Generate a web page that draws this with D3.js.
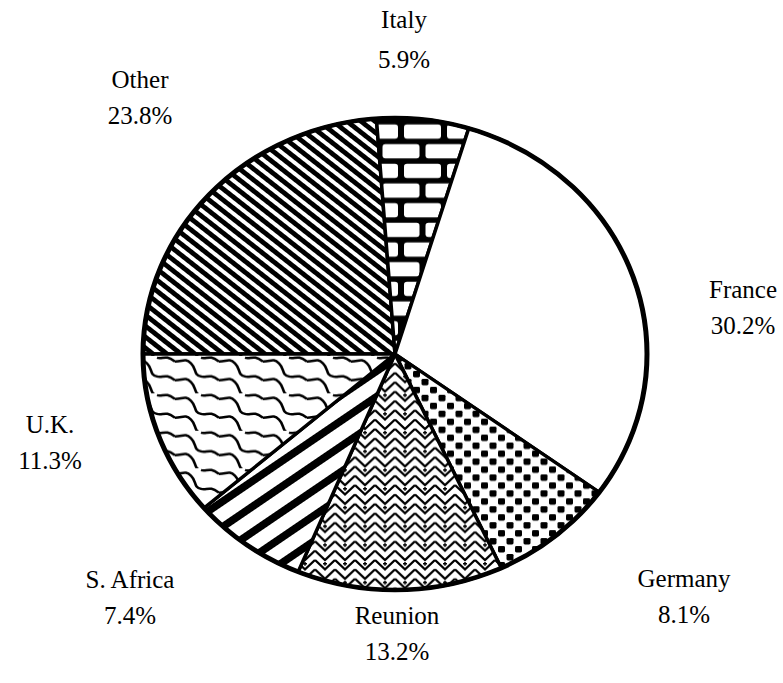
<!DOCTYPE html>
<html>
<head>
<meta charset="utf-8">
<script src="https://cdn.jsdelivr.net/npm/d3@7"></script>
<style>
  html, body { margin: 0; padding: 0; background: #fff; }
  svg { display: block; }
  text { font-family: "Liberation Serif", "DejaVu Serif", serif; fill: #000; }
</style>
</head>
<body>
<script>
// ---- data (clockwise from 9 o'clock) ----
const categories = ["Other", "Italy", "France", "Germany", "Reunion", "S. Africa", "U.K."];
const shares     = [23.8, 5.9, 30.2, 8.1, 13.2, 7.4, 11.3];
const shareLabels = ["23.8%", "5.9%", "30.2%", "8.1%", "13.2%", "7.4%", "11.3%"];
const fills      = ["pOther", "pItaly", "none", "pGermany", "pReunion", "pSAfrica", "pUK"];
// label anchor points (centre x, baseline y of first line)
const labelX = [140, 404, 743, 684, 397, 130, 50];
const labelY = [88, 28, 298, 587, 624, 588, 433];
const labelGap = [36, 40, 36, 36, 36, 36, 36];

const W = 783, H = 683;
const cx = 395, cy = 354, rx = 252, ry = 236;

const svg = d3.select("body").append("svg").attr("width", W).attr("height", H);
const defs = svg.append("defs");

// Other: diagonal stripes down-right
{
  const p = defs.append("pattern").attr("id", "pOther").attr("patternUnits", "userSpaceOnUse")
    .attr("width", 20).attr("height", 9).attr("patternTransform", "rotate(40)");
  p.append("rect").attr("width", 20).attr("height", 9).attr("fill", "#fff");
  p.append("rect").attr("y", 0).attr("width", 20).attr("height", 5).attr("fill", "#000");
}
// Italy: bricks
{
  const p = defs.append("pattern").attr("id", "pItaly").attr("patternUnits", "userSpaceOnUse")
    .attr("width", 43).attr("height", 42).attr("x", 6).attr("y", 4);
  p.append("rect").attr("width", 43).attr("height", 42).attr("fill", "#000");
  const b = [[3, 3], [-18.5, 24], [24.5, 24]];
  b.forEach(([x, y]) => p.append("rect").attr("x", x).attr("y", y).attr("width", 37).attr("height", 15)
    .attr("rx", 3).attr("fill", "#fff"));
}
// Germany: staggered square dots
{
  const p = defs.append("pattern").attr("id", "pGermany").attr("patternUnits", "userSpaceOnUse")
    .attr("width", 17).attr("height", 17);
  p.append("rect").attr("width", 17).attr("height", 17).attr("fill", "#fff");
  p.append("rect").attr("x", 1).attr("y", 1).attr("width", 7).attr("height", 7).attr("rx", 1.5).attr("fill", "#000");
  p.append("rect").attr("x", 9.5).attr("y", 9.5).attr("width", 7).attr("height", 7).attr("rx", 1.5).attr("fill", "#000");
}
// Reunion: herringbone / chevrons
{
  const p = defs.append("pattern").attr("id", "pReunion").attr("patternUnits", "userSpaceOnUse")
    .attr("width", 20).attr("height", 20);
  p.append("rect").attr("width", 20).attr("height", 20).attr("fill", "#fff");
  p.append("path").attr("d", "M0,0 L10,10 L20,0 M0,10 L10,20 L20,10 M0,20 L10,30 L20,20 M0,-10 L10,0 L20,-10")
    .attr("fill", "none").attr("stroke", "#000").attr("stroke-width", 2.4);
  p.append("path").attr("d", "M8,4 L12,4 M10,2 L10,6").attr("stroke", "#000").attr("stroke-width", 1.5);
}
// S. Africa: wide stripes up-right
{
  const p = defs.append("pattern").attr("id", "pSAfrica").attr("patternUnits", "userSpaceOnUse")
    .attr("width", 30).attr("height", 22).attr("patternTransform", "rotate(-36)");
  p.append("rect").attr("width", 30).attr("height", 22).attr("fill", "#fff");
  p.append("rect").attr("y", 0).attr("width", 30).attr("height", 8).attr("fill", "#000");
}
// U.K.: scale / wave pattern
{
  const p = defs.append("pattern").attr("id", "pUK").attr("patternUnits", "userSpaceOnUse")
    .attr("width", 44).attr("height", 40).attr("y", 2);
  p.append("rect").attr("width", 44).attr("height", 40).attr("fill", "#fff");
  p.append("path")
    .attr("d", "M0,6 C8,6 10,2 16,8 C22,14 18,20 26,22 C32,24 34,18 44,26 " +
               "M0,26 C8,26 10,22 16,28 C22,34 18,40 26,42 " +
               "M26,2 C32,4 34,-2 44,6")
    .attr("fill", "none").attr("stroke", "#000").attr("stroke-width", 2.6);
}

const pie = d3.pie().sort(null).value(d => d).startAngle(-Math.PI / 2).endAngle(3 * Math.PI / 2);
const arcs = pie(shares);
const arc = d3.arc().innerRadius(0).outerRadius(rx);

const g = svg.append("g").attr("transform", `translate(${cx},${cy}) scale(1,${ry / rx})`);
g.selectAll("path.slice").data(arcs).enter().append("path")
  .attr("class", "slice")
  .attr("d", arc)
  .attr("fill", (d, i) => fills[i] === "none" ? "#fff" : `url(#${fills[i]})`)
  .attr("stroke", "#000").attr("stroke-width", 3.5).attr("stroke-linejoin", "round");
g.append("circle").attr("r", rx).attr("fill", "none").attr("stroke", "#000").attr("stroke-width", 5);

const lab = svg.append("g");
categories.forEach((c, i) => {
  const t = lab.append("text").attr("text-anchor", "middle").attr("font-size", 25);
  t.append("tspan").attr("x", labelX[i]).attr("y", labelY[i]).text(c);
  t.append("tspan").attr("x", labelX[i]).attr("y", labelY[i] + labelGap[i]).text(shareLabels[i]);
});
</script>
</body>
</html>
